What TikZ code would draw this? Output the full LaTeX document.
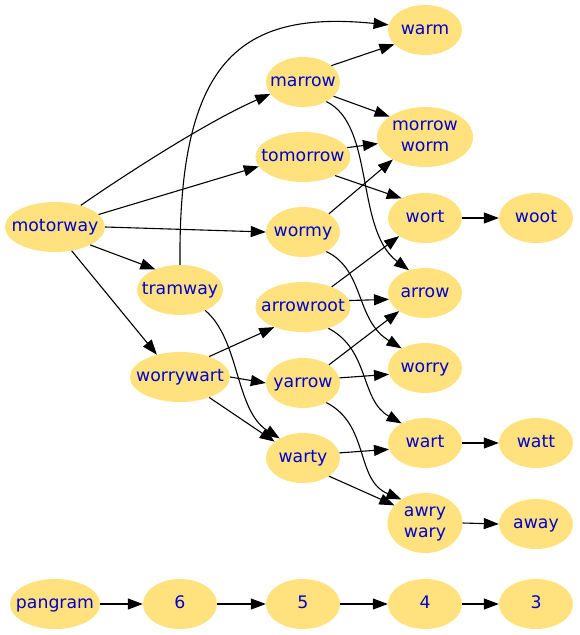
\documentclass[tikz,border=0pt]{standalone}
\usepackage{fontspec}
\setmainfont{DejaVu Sans}
\usetikzlibrary{shapes.geometric,arrows.meta}
\definecolor{nodefill}{RGB}{255,225,125}
\definecolor{nodetext}{RGB}{0,0,205}
\newcommand\lb[1]{\makebox[0pt]{\raisebox{-2pt}{\begin{tabular}{@{}c@{}}#1\end{tabular}}}}
\tikzset{
  wnode/.style={ellipse, fill=nodefill, text=nodetext, inner sep=0pt,
    minimum width=74pt, minimum height=50pt,
    font=\fontsize{17.3}{21}\selectfont},
  edge/.style={draw=black, line width=1.1pt, -{Triangle[length=15pt,width=11pt]}}
}
\begin{document}
\begin{tikzpicture}[x=1pt,y=-1pt]
\useasboundingbox (0,0) rectangle (580,635);
% nodes
\node[wnode, minimum width=100pt] (motorway) at (55,227) {\lb{motorway}};
\node[wnode, minimum width=86pt] (tramway) at (180,290) {\lb{tramway}};
\node[wnode, minimum width=100pt] (worrywart) at (180,377) {\lb{worrywart}};
\node[wnode] (marrow) at (303,82) {\lb{marrow}};
\node[wnode, minimum width=95pt] (tomorrow) at (303,157) {\lb{tomorrow}};
\node[wnode] (wormy) at (303,232) {\lb{wormy}};
\node[wnode, minimum width=95pt] (arrowroot) at (303,307) {\lb{arrowroot}};
\node[wnode] (yarrow) at (303,383) {\lb{yarrow}};
\node[wnode] (warty) at (303,458) {\lb{warty}};
\node[wnode] (warm) at (425,30) {\lb{warm}};
\node[wnode, minimum width=96pt, minimum height=60pt] (morrowworm) at (425,137) {\lb{morrow\\worm}};
\node[wnode] (wort) at (425,218) {\lb{wort}};
\node[wnode] (arrow) at (425,293) {\lb{arrow}};
\node[wnode] (worry) at (425,368) {\lb{worry}};
\node[wnode] (wart) at (425,443) {\lb{wart}};
\node[wnode, minimum width=75pt, minimum height=60pt] (awrywary) at (425,523) {\lb{awry\\wary}};
\node[wnode] (woot) at (536,218) {\lb{woot}};
\node[wnode] (watt) at (536,443) {\lb{watt}};
\node[wnode] (away) at (536,524) {\lb{away}};
\node[wnode, minimum width=90pt] (pangram) at (55,604) {\lb{pangram}};
\node[wnode] (n6) at (180,604) {\lb{6}};
\node[wnode] (n5) at (303,604) {\lb{5}};
\node[wnode] (n4) at (425,604) {\lb{4}};
\node[wnode] (n3) at (536,604) {\lb{3}};
% edges from motorway
\draw[edge] (motorway.40) .. controls (110,185) and (200,125) .. (marrow.200);
\draw[edge] (motorway.16) -- (tomorrow.192);
\draw[edge] (motorway.east) -- (wormy.west);
\draw[edge] (motorway.-27) -- (tramway.140);
\draw[edge] (motorway.-55) -- (worrywart.136);
% tramway
\draw[edge] (tramway.north) .. controls (178,60) and (240,10) .. (warm.172);
\draw[edge] (tramway.-39) .. controls (240,340) and (235,410) .. (warty.140);
% worrywart
\draw[edge] (worrywart.35) -- (arrowroot.215);
\draw[edge] (worrywart.east) -- (yarrow.west);
\draw[edge] (worrywart.-35) -- (warty.150);
% marrow
\draw[edge] (marrow.30) -- (warm.205);
\draw[edge] (marrow.-25) -- (morrowworm.150);
\draw[edge] (marrow.-40) .. controls (375,125) and (355,230) .. (arrow.125);
% tomorrow
\draw[edge] (tomorrow.12) -- (morrowworm.188);
\draw[edge] (tomorrow.-30) -- (wort.140);
% wormy
\draw[edge] (wormy.35) -- (morrowworm.215);
\draw[edge] (wormy.-40) .. controls (365,270) and (355,320) .. (worry.140);
% arrowroot
\draw[edge] (arrowroot.35) -- (wort.215);
\draw[edge] (arrowroot.8) -- (arrow.190);
\draw[edge] (arrowroot.-40) .. controls (370,350) and (360,400) .. (wart.140);
% yarrow
\draw[edge] (yarrow.35) -- (arrow.215);
\draw[edge] (yarrow.8) -- (worry.190);
\draw[edge] (yarrow.-40) .. controls (370,425) and (355,480) .. (awrywary.135);
% warty
\draw[edge] (warty.8) -- (wart.190);
\draw[edge] (warty.-35) -- (awrywary.150);
% right column
\draw[edge] (wort.east) -- (woot.west);
\draw[edge] (wart.east) -- (watt.west);
\draw[edge] (awrywary.east) -- (away.west);
% bottom row
\draw[edge] (pangram.east) -- (n6.west);
\draw[edge] (n6.east) -- (n5.west);
\draw[edge] (n5.east) -- (n4.west);
\draw[edge] (n4.east) -- (n3.west);
\end{tikzpicture}
\end{document}
